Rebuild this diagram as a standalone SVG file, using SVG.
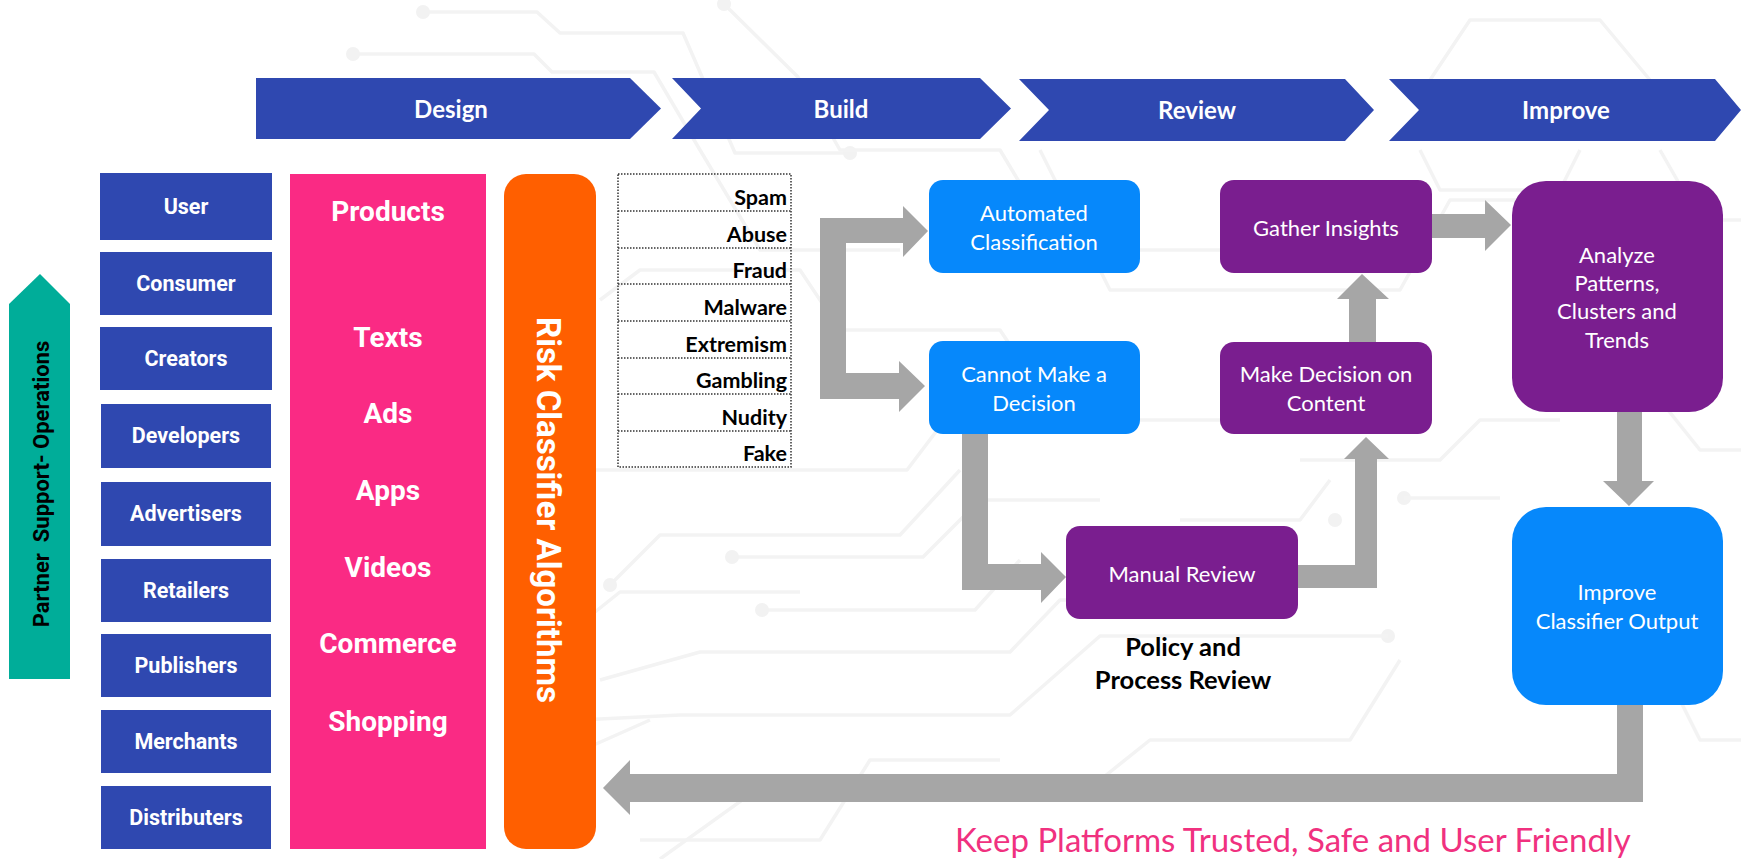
<svg xmlns="http://www.w3.org/2000/svg" width="1741" height="859" viewBox="0 0 1741 859">
  <defs>
    <style>
      .bg-line { fill: none; stroke: #f3f3f3; stroke-width: 3.5; stroke-linejoin: round; }
      .bg-dot { fill: #f2f2f2; }
      .phase { fill: #2f48b0; }
      .phase-text { font-family: Lato, "Liberation Sans", sans-serif; font-weight: 700; font-size: 24px; fill: #ffffff; text-anchor: middle; }
      .actor { fill: #2f48b0; }
      .actor-text { font-family: Roboto, "Liberation Sans", sans-serif; font-weight: 700; font-size: 21.5px; fill: #ffffff; text-anchor: middle; }
      .product-text { font-family: Roboto, "Liberation Sans", sans-serif; font-weight: 700; font-size: 28px; fill: #ffffff; text-anchor: middle; }
      .risk-text { font-family: Lato, "Liberation Sans", sans-serif; font-weight: 700; font-size: 21.5px; fill: #000000; text-anchor: end; }
      .step-blue { fill: #0688fb; }
      .step-purple { fill: #7a1e8f; }
      .step-text { font-family: Lato, "Liberation Sans", sans-serif; font-weight: 400; font-size: 22px; fill: #ffffff; text-anchor: middle; }
      .flow { fill: #a6a6a6; }
      .dotted { fill: none; stroke: #333333; stroke-width: 1.5; stroke-dasharray: 1.5 1.5; }
    </style>
  </defs>

  <rect width="1741" height="859" fill="#ffffff"/>

  <!-- faint circuit-board backdrop -->
  <g id="backdrop">
    <polyline class="bg-line" points="423,12 537,12 560,33 683,33 735,153 850,153"/>
    <circle class="bg-dot" cx="423" cy="12" r="7"/>
    <circle class="bg-dot" cx="850" cy="153" r="7"/>
    <polyline class="bg-line" points="353,54 534,54 552,72 654,72 700,150 760,250 900,250"/>
    <circle class="bg-dot" cx="353" cy="54" r="7"/>
    <polyline class="bg-line" points="724,4 798,77 840,150 1000,150 1060,250 1300,250"/>
    <circle class="bg-dot" cx="724" cy="4" r="7"/>
    <polyline class="bg-line" points="1040,150 1110,290 1400,290 1450,200 1580,200"/>
    <polyline class="bg-line" points="1420,150 1440,190 1560,190 1580,150"/>
    <polyline class="bg-line" points="600,300 640,270 800,270 840,330 1000,330 1060,420 1250,420"/>
    <polyline class="bg-line" points="560,470 907,470 960,400 1100,400"/>
    <polyline class="bg-line" points="610,585 660,535 900,535 960,470"/>
    <circle class="bg-dot" cx="610" cy="585" r="7"/>
    <polyline class="bg-line" points="732,557 923,557 980,500 1100,500"/>
    <circle class="bg-dot" cx="732" cy="557" r="7"/>
    <polyline class="bg-line" points="762,610 975,610 1020,560"/>
    <circle class="bg-dot" cx="762" cy="610" r="7"/>
    <polyline class="bg-line" points="560,640 620,592 800,592"/>
    <polyline class="bg-line" points="600,680 700,652 1010,652 1060,600 1200,600"/>
    <polyline class="bg-line" points="580,720 680,715 1010,715 1100,636 1300,636"/>
    <circle class="bg-dot" cx="1388" cy="636" r="7"/>
    <polyline class="bg-line" points="1300,636 1388,636"/>
    <polyline class="bg-line" points="560,760 650,720"/>
    <polyline class="bg-line" points="640,840 820,840 870,760 1000,760"/>
    <polyline class="bg-line" points="660,859 770,780 1100,780 1150,740 1350,740 1400,660"/>
    <polyline class="bg-line" points="1300,460 1440,460 1480,420 1560,420"/>
    <polyline class="bg-line" points="1180,520 1300,520 1330,480"/>
    <circle class="bg-dot" cx="1335" cy="520" r="7"/>
    <circle class="bg-dot" cx="1404" cy="498" r="7"/>
    <polyline class="bg-line" points="1404,498 1500,498"/>
    <polyline class="bg-line" points="1430,80 1470,20 1600,20 1650,80"/>
    <polyline class="bg-line" points="1660,150 1700,220 1741,220"/>
    <polyline class="bg-line" points="1660,400 1700,450 1741,450"/>
    <polyline class="bg-line" points="1680,700 1700,740 1741,740"/>
  </g>

  <!-- lifecycle phases -->
  <g id="phase-design">
    <polygon class="phase" points="256,78 630,78 661,108.5 630,139 256,139"/>
    <text class="phase-text" x="451" y="118">Design</text>
  </g>
  <g id="phase-build">
    <polygon class="phase" points="672,78 980,78 1011,108.5 980,139 672,139 701,108.5"/>
    <text class="phase-text" x="841" y="118">Build</text>
  </g>
  <g id="phase-review">
    <polygon class="phase" points="1019,79 1345,79 1374,110 1345,141 1019,141 1049,110"/>
    <text class="phase-text" x="1197" y="119">Review</text>
  </g>
  <g id="phase-improve">
    <polygon class="phase" points="1389,79 1715,79 1741,110 1715,141 1389,141 1419,110"/>
    <text class="phase-text" x="1566" y="119">Improve</text>
  </g>

  <!-- support arrow -->
  <g id="partner-support">
    <polygon fill="#00ad99" points="9,304 40,274 70,304 70,679 9,679"/>
    <text transform="translate(49,484) rotate(-90)" font-family="Roboto, 'Liberation Sans', sans-serif" font-weight="700" font-size="22" fill="#000000" text-anchor="middle" xml:space="preserve">Partner  Support- Operations</text>
  </g>

  <!-- actors -->
  <g id="actor-user"><rect class="actor" x="100" y="173" width="172" height="67"/><text class="actor-text" x="186" y="214">User</text></g>
  <g id="actor-consumer"><rect class="actor" x="100" y="252" width="172" height="63"/><text class="actor-text" x="186" y="291">Consumer</text></g>
  <g id="actor-creators"><rect class="actor" x="100" y="327" width="172" height="63"/><text class="actor-text" x="186" y="366">Creators</text></g>
  <g id="actor-developers"><rect class="actor" x="101" y="404" width="170" height="64"/><text class="actor-text" x="186" y="443">Developers</text></g>
  <g id="actor-advertisers"><rect class="actor" x="101" y="482" width="170" height="64"/><text class="actor-text" x="186" y="521">Advertisers</text></g>
  <g id="actor-retailers"><rect class="actor" x="101" y="559" width="170" height="63"/><text class="actor-text" x="186" y="598">Retailers</text></g>
  <g id="actor-publishers"><rect class="actor" x="101" y="634" width="170" height="63"/><text class="actor-text" x="186" y="673">Publishers</text></g>
  <g id="actor-merchants"><rect class="actor" x="101" y="710" width="170" height="63"/><text class="actor-text" x="186" y="749">Merchants</text></g>
  <g id="actor-distributers"><rect class="actor" x="101" y="786" width="170" height="63"/><text class="actor-text" x="186" y="825">Distributers</text></g>

  <!-- products column -->
  <g id="products">
    <rect x="290" y="174" width="196" height="675" fill="#fa2a84"/>
    <text class="product-text" x="388" y="221" font-size="22.5">Products</text>
    <text class="product-text" x="388" y="347">Texts</text>
    <text class="product-text" x="388" y="423">Ads</text>
    <text class="product-text" x="388" y="500">Apps</text>
    <text class="product-text" x="388" y="577">Videos</text>
    <text class="product-text" x="388" y="653">Commerce</text>
    <text class="product-text" x="388" y="731">Shopping</text>
  </g>

  <!-- classifier column -->
  <g id="risk-classifier">
    <rect x="504" y="174" width="92" height="675" rx="22" ry="22" fill="#ff5f00"/>
    <text transform="translate(537,510) rotate(90)" font-family="Roboto, 'Liberation Sans', sans-serif" font-weight="700" font-size="33" fill="#ffffff" text-anchor="middle">Risk Classifier Algorithms</text>
  </g>

  <!-- risk categories -->
  <g id="risk-categories">
    <rect class="dotted" x="618" y="174" width="173" height="293"/>
    <line class="dotted" x1="618" y1="211" x2="791" y2="211"/>
    <line class="dotted" x1="618" y1="248" x2="791" y2="248"/>
    <line class="dotted" x1="618" y1="284" x2="791" y2="284"/>
    <line class="dotted" x1="618" y1="321" x2="791" y2="321"/>
    <line class="dotted" x1="618" y1="358" x2="791" y2="358"/>
    <line class="dotted" x1="618" y1="394" x2="791" y2="394"/>
    <line class="dotted" x1="618" y1="431" x2="791" y2="431"/>
    <text class="risk-text" x="787" y="205">Spam</text>
    <text class="risk-text" x="787" y="242">Abuse</text>
    <text class="risk-text" x="787" y="278">Fraud</text>
    <text class="risk-text" x="787" y="315">Malware</text>
    <text class="risk-text" x="787" y="352">Extremism</text>
    <text class="risk-text" x="787" y="388">Gambling</text>
    <text class="risk-text" x="787" y="425">Nudity</text>
    <text class="risk-text" x="787" y="461">Fake</text>
  </g>

  <!-- connectors -->
  <g id="connectors">
    <polygon class="flow" points="820,218 903,218 903,206 928,231 903,257 903,243 846,243 846,373 899,373 899,361 925,386 899,412 899,399 820,399"/>
    <polygon class="flow" points="962,434 988,434 988,564 1041,564 1041,552 1066,577 1041,603 1041,590 962,590"/>
    <polygon class="flow" points="1298,565 1355,565 1355,459 1344,459 1366,437 1389,459 1377,459 1377,588 1298,588"/>
    <polygon class="flow" points="1349,342 1349,299 1337,299 1362,274 1389,299 1376,299 1376,342"/>
    <polygon class="flow" points="1432,214 1485,214 1485,200 1511,225 1485,251 1485,238 1432,238"/>
    <polygon class="flow" points="1617,412 1642,412 1642,481 1654,481 1629,506 1603,481 1617,481"/>
    <polygon class="flow" points="1617,705 1643,705 1643,802 630,802 630,815 603,788 630,760 630,774 1617,774"/>
  </g>

  <!-- process steps -->
  <g id="automated-classification">
    <rect class="step-blue" x="929" y="180" width="211" height="93" rx="14" ry="14"/>
    <text class="step-text" x="1034" y="221">Automated</text>
    <text class="step-text" x="1034" y="250">Classification</text>
  </g>
  <g id="cannot-decide">
    <rect class="step-blue" x="929" y="341" width="211" height="93" rx="14" ry="14"/>
    <text class="step-text" x="1034" y="382">Cannot Make a</text>
    <text class="step-text" x="1034" y="411">Decision</text>
  </g>
  <g id="manual-review">
    <rect class="step-purple" x="1066" y="526" width="232" height="93" rx="14" ry="14"/>
    <text class="step-text" x="1182" y="582">Manual Review</text>
  </g>
  <g id="policy-review">
    <text font-family="Lato, 'Liberation Sans', sans-serif" font-weight="700" font-size="25.5" fill="#000000" text-anchor="middle" x="1183" y="656">Policy and</text>
    <text font-family="Lato, 'Liberation Sans', sans-serif" font-weight="700" font-size="25.5" fill="#000000" text-anchor="middle" x="1183" y="689">Process Review</text>
  </g>
  <g id="make-decision">
    <rect class="step-purple" x="1220" y="342" width="212" height="92" rx="14" ry="14"/>
    <text class="step-text" x="1326" y="382">Make Decision on</text>
    <text class="step-text" x="1326" y="411">Content</text>
  </g>
  <g id="gather-insights">
    <rect class="step-purple" x="1220" y="180" width="212" height="93" rx="14" ry="14"/>
    <text class="step-text" x="1326" y="236">Gather Insights</text>
  </g>
  <g id="analyze-patterns">
    <rect class="step-purple" x="1512" y="181" width="211" height="231" rx="34" ry="34"/>
    <text class="step-text" x="1617" y="263">Analyze</text>
    <text class="step-text" x="1617" y="291">Patterns,</text>
    <text class="step-text" x="1617" y="319">Clusters and</text>
    <text class="step-text" x="1617" y="348">Trends</text>
  </g>
  <g id="improve-output">
    <rect class="step-blue" x="1512" y="507" width="211" height="198" rx="34" ry="34"/>
    <text class="step-text" x="1617" y="600">Improve</text>
    <text class="step-text" x="1617" y="629">Classifier Output</text>
  </g>

  <!-- tagline -->
  <g id="tagline">
    <text font-family="Lato, 'Liberation Sans', sans-serif" font-weight="400" font-size="33" fill="#f0317f" x="955" y="852">Keep Platforms Trusted, Safe and User Friendly</text>
  </g>
</svg>
